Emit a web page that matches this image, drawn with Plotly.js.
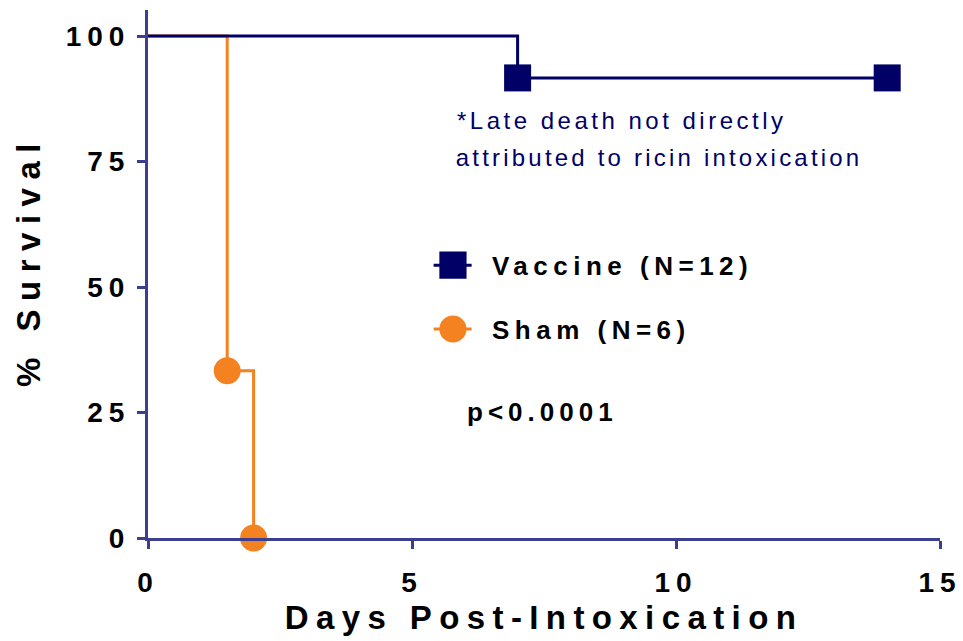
<!DOCTYPE html>
<html>
<head>
<meta charset="utf-8">
<script src="https://cdn.plot.ly/plotly-3.0.1.min.js"></script>
<style>
  html, body { margin: 0; padding: 0; background: #ffffff; }
  #chart { width: 963px; height: 641px; }
  .xtick text, .ytick text { letter-spacing: 6px; }
  .g-xtitle text { letter-spacing: 7.4px; }
  .g-ytitle text { letter-spacing: 8.5px; }
  .g-ytitle { transform: translate(4px, -13px); }
  .legendtext { letter-spacing: 5.5px; }
  .legendlines path { transform: scaleX(0.7308); }
  .annotation text { letter-spacing: 3.5px; }
  .annotation[data-index="1"] text { letter-spacing: 3.2px; }
  .annotation[data-index="2"] text { letter-spacing: 5px; }
  .legendpoints path.scatterpts { transform: translate(23px, 0px) scale(1.7); }
</style>
</head>
<body>
<div id="chart"></div>
<script>
// Kaplan-Meier steps
const vaccineDays = [0, 7, 14];
const vaccineSurvival = [100, 91.67, 91.67];
const vaccineMarkerSizes = [0, 27, 27];

const shamDays = [0, 1.5, 2];
const shamSurvival = [100, 33.33, 0];
const shamMarkerSizes = [0, 27, 27];

const xTicks = [0, 5, 10, 15];
const yTicks = [0, 25, 50, 75, 100];

const seriesNames = ['Vaccine (N=12)', 'Sham (N=6)'];
const noteLines = ['*Late death not directly', 'attributed to ricin intoxication'];
const pValueText = 'p<0.0001';

const navy = '#000066';
const orange = '#f58220';
const axisColor = '#3c3f8e';
const fontFamily = '"Liberation Sans", Arial, Helvetica, sans-serif';

const traces = [
  {
    x: shamDays, y: shamSurvival, name: seriesNames[1],
    type: 'scatter', mode: 'lines+markers',
    line: { shape: 'hv', color: orange, width: 3 },
    marker: { symbol: 'circle', size: shamMarkerSizes, color: orange, opacity: 1, line: { width: 0 } },
    cliponaxis: false, legendgroup: 'sham', legendrank: 2
  },
  {
    x: vaccineDays, y: vaccineSurvival, name: seriesNames[0],
    type: 'scatter', mode: 'lines+markers',
    line: { shape: 'hv', color: navy, width: 3 },
    marker: { symbol: 'square', size: vaccineMarkerSizes, color: navy, opacity: 1, line: { width: 0 } },
    cliponaxis: false, legendgroup: 'vaccine', legendrank: 1
  }
];

const axisCommon = {
  showline: true, linecolor: axisColor, linewidth: 3,
  ticks: 'outside', ticklen: 8, tickwidth: 3, tickcolor: axisColor,
  showgrid: false, zeroline: false,
  tickfont: { family: fontFamily, size: 28, weight: 700, color: '#000000' }
};

const layout = {
  width: 963, height: 641,
  margin: { l: 148, r: 23, t: 10, b: 103, pad: 0 },
  paper_bgcolor: '#ffffff', plot_bgcolor: '#ffffff',
  showlegend: true,
  xaxis: Object.assign({}, axisCommon, {
    range: [0, 15], tickmode: 'array', tickvals: xTicks, ticktext: xTicks.map(String),
    ticklabelstandoff: 9,
    title: { text: 'Days Post-Intoxication', standoff: 10,
      font: { family: fontFamily, size: 33, weight: 700, color: '#000000' } }
  }),
  yaxis: Object.assign({}, axisCommon, {
    range: [0, 105.2], tickmode: 'array', tickvals: yTicks, ticktext: yTicks.map(String),
    ticklabelstandoff: 1,
    title: { text: '% Survival', standoff: 20,
      font: { family: fontFamily, size: 33, weight: 700, color: '#000000' } }
  }),
  legend: {
    x: 0.356, y: 0.561, xanchor: 'left', yanchor: 'top',
    traceorder: 'grouped', tracegroupgap: 27, itemwidth: 52,
    bgcolor: 'rgba(0,0,0,0)', borderwidth: 0,
    font: { family: fontFamily, size: 26, weight: 700, color: '#000000' }
  },
  annotations: [
    { xref: 'paper', yref: 'paper', x: 0.598, y: 0.79, xanchor: 'center', yanchor: 'middle',
      text: noteLines[0], showarrow: false,
      font: { family: fontFamily, size: 24, color: navy } },
    { xref: 'paper', yref: 'paper', x: 0.645, y: 0.72, xanchor: 'center', yanchor: 'middle',
      text: noteLines[1], showarrow: false,
      font: { family: fontFamily, size: 24, color: navy } },
    { xref: 'paper', yref: 'paper', x: 0.498, y: 0.239, xanchor: 'center', yanchor: 'middle',
      text: pValueText, showarrow: false,
      font: { family: fontFamily, size: 26, weight: 700, color: '#000000' } }
  ]
};

Plotly.newPlot('chart', traces, layout, { displayModeBar: false, staticPlot: true });
</script>
</body>
</html>
